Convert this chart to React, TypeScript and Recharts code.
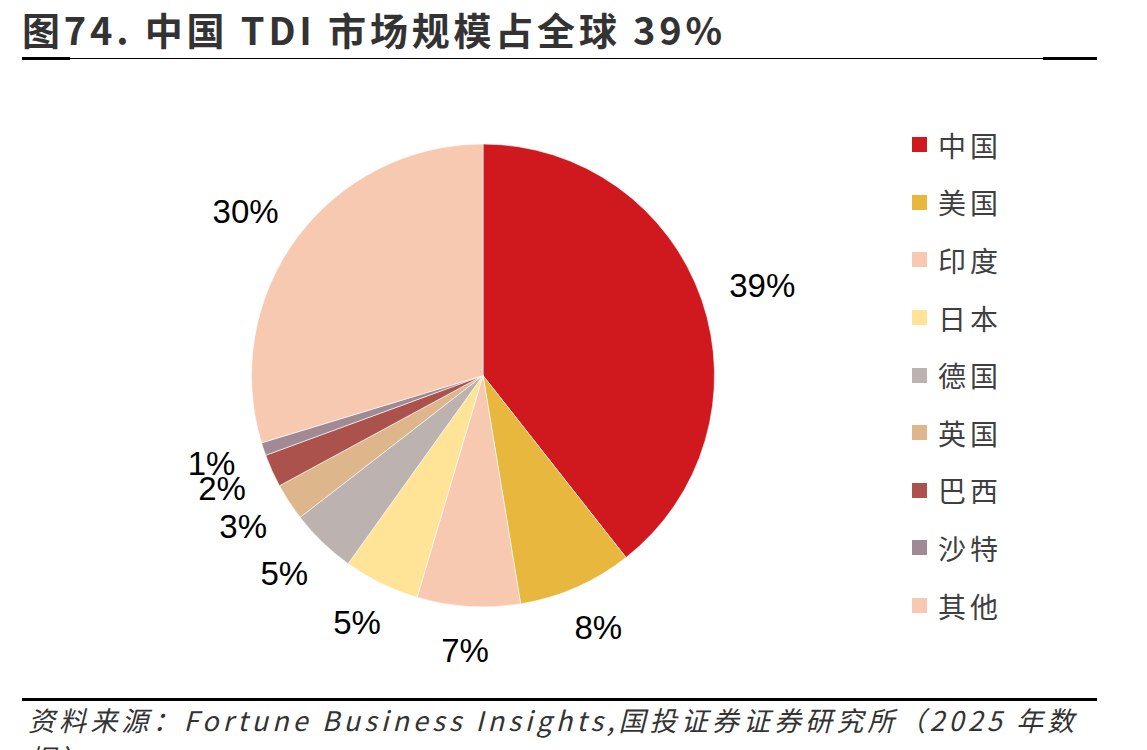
import React from 'react';
import { PieChart, Pie, Cell, Legend } from 'recharts';

// 2025 年 TDI 市场规模份额（%），按图中扇区角度估读，标签取整
const countries = ['中国', '美国', '印度', '日本', '德国', '英国', '巴西', '沙特', '其他'];
const shares = [39.4, 8.0, 7.2, 5.3, 4.6, 2.6, 2.3, 0.9, 29.7];
const colors = ['#D0181F', '#E7B83D', '#F6C9B0', '#FFE498', '#BCB2B0', '#DDB68C', '#AA524B', '#A08A94', '#F6C9B0'];

const data = countries.map((name, i) => ({ name, value: shares[i] }));

const RADIAN = Math.PI / 180;
const LABEL_FONT = 33;

// 标签放在扇区外侧，标签框靠近饼图的一角贴着外圈
const renderLabel = (props: any) => {
  const { cx, cy, midAngle, outerRadius, value } = props;
  const text = `${Math.round(value)}%`;
  const w = ((text.length - 1) * 0.556 + 0.889) * LABEL_FONT;
  const h = 26;
  const ux = Math.cos(-midAngle * RADIAN);
  const uy = Math.sin(-midAngle * RADIAN);
  const r = outerRadius + 31;
  const x = cx + r * ux + (ux * w) / 2;
  const y = cy + r * uy + (uy * h) / 2;
  return (
    <text
      x={x}
      y={y}
      fill="#000"
      textAnchor="middle"
      dominantBaseline="central"
      style={{ fontFamily: '"Liberation Sans", Arial, sans-serif', fontSize: LABEL_FONT }}
    >
      {text}
    </text>
  );
};

const renderLegend = () => (
  <div>
    {data.map((d, i) => (
      <div key={d.name} style={{ display: 'flex', alignItems: 'center', height: 57.6 }}>
        <div style={{ width: 15, height: 15, backgroundColor: colors[i], marginRight: 11 }} />
        <span
          style={{
            fontFamily: '"Noto Sans CJK SC", sans-serif',
            fontSize: 28,
            letterSpacing: 4,
            color: '#3f3f3f',
            lineHeight: 1,
          }}
        >
          {d.name}
        </span>
      </div>
    ))}
  </div>
);

const App: React.FC = () => {
  return (
    <div style={{ position: 'absolute', left: 0, top: 0, width: 1147, height: 750, background: '#fff', overflow: 'hidden' }}>
      {/* 标题 */}
      <div
        style={{
          position: 'absolute',
          left: 22,
          top: 4,
          fontFamily: '"Noto Sans CJK SC", sans-serif',
          fontWeight: 700,
          fontSize: 38,
          letterSpacing: 3.8,
          color: '#333',
          lineHeight: '50px',
          whiteSpace: 'nowrap',
        }}
      >
        图74. 中国 TDI 市场规模占全球 39%
      </div>
      <div style={{ position: 'absolute', left: 22, top: 58, width: 1075, height: 1, background: '#000' }} />
      <div style={{ position: 'absolute', left: 22, top: 57, width: 48, height: 3, background: '#000' }} />
      <div style={{ position: 'absolute', left: 1043, top: 57, width: 54, height: 3, background: '#000' }} />

      <div style={{ position: 'absolute', left: 0, top: 0 }}>
        <PieChart width={1147} height={750} margin={{ top: 0, right: 0, bottom: 0, left: 0 }}>
          <Pie
            data={data}
            dataKey="value"
            nameKey="name"
            cx={483}
            cy={375.5}
            outerRadius={231.5}
            startAngle={90}
            endAngle={-270}
            stroke="#fff"
            strokeWidth={0.6}
            label={renderLabel}
            labelLine={false}
            isAnimationActive={false}
          >
            {data.map((d, i) => (
              <Cell key={`cell-${i}`} fill={colors[i]} />
            ))}
          </Pie>
          <Legend
            content={renderLegend}
            layout="vertical"
            wrapperStyle={{ position: 'absolute', left: 912, top: 116, width: 200 }}
          />
        </PieChart>
      </div>

      {/* 资料来源 */}
      <div style={{ position: 'absolute', left: 22, top: 698, width: 1075, height: 3, background: '#000' }} />
      <div
        style={{
          position: 'absolute',
          left: 28,
          top: 701,
          width: 1075,
          fontFamily: '"Noto Sans CJK SC", sans-serif',
          fontStyle: 'italic',
          fontSize: 27,
          letterSpacing: 4.1,
          color: '#333',
          lineHeight: '38px',
        }}
      >
        资料来源：Fortune Business Insights,国投证券证券研究所（2025 年数据）
      </div>
    </div>
  );
};

export default App;
